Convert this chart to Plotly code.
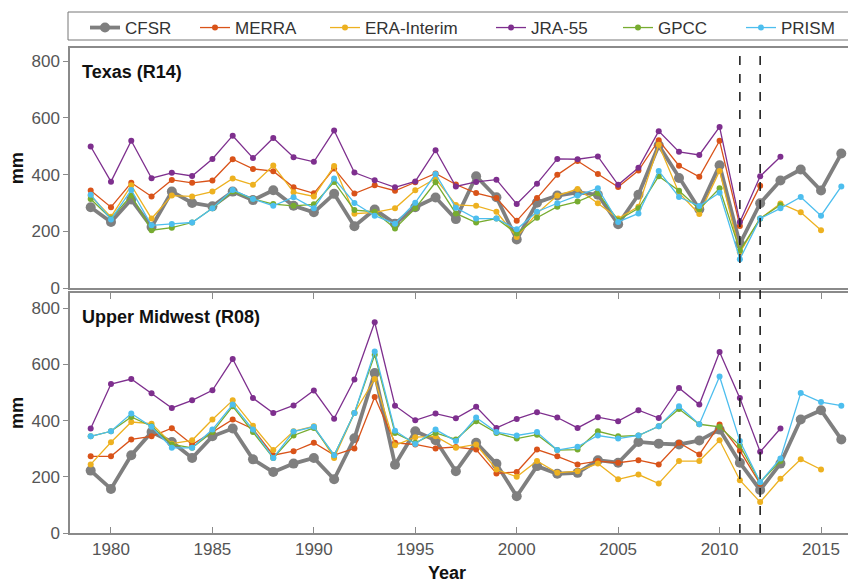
import plotly.graph_objects as go

years = list(range(1979, 2017))
N = None

# Texas (R14)
tx_cfsr = [285, 233, 312, 215, 340, 300, 288, 340, 310, 345, 290, 267, 332, 218, 277, 227, 285, 319, 243, 394,
           320, 171, 301, 326, 337, 329, 225, 329, 503, 388, 278, 433, 156, 299, 379, 418, 344, 474]
tx_merra = [344, 285, 371, 323, 381, 371, 379, 454, 420, 412, 355, 334, 421, 333, 362, 343, 373, 404, 365, 335,
            317, 237, 317, 399, 448, 402, 356, 414, 521, 431, 392, 519, 219, 361, N, N, N, N]
tx_era = [325, 251, 362, 245, 326, 323, 340, 386, 364, 432, 338, 323, 430, 262, 267, 281, 345, 386, 293, 290,
          269, 180, 263, 326, 349, 299, 245, 287, 505, 335, 261, 413, 126, 245, 298, 267, 204, N]
tx_jra = [499, 375, 519, 387, 406, 395, 455, 537, 458, 529, 461, 445, 555, 407, 380, 355, 376, 486, 358, 374,
          382, 296, 368, 455, 454, 464, 364, 424, 553, 480, 469, 568, 233, 394, 463, N, N, N]
tx_gpcc = [314, 245, 326, 204, 213, 231, 281, 340, 314, 296, 290, 295, 374, 275, 269, 210, 281, 373, 263, 231,
           245, 192, 248, 287, 305, 335, 239, 281, 394, 343, 278, 352, 132, 245, 293, N, N, N]
tx_prism = [329, 242, 346, 221, 226, 231, 281, 346, 314, 290, 320, 281, 386, 300, 255, 227, 301, 402, 283, 245,
            245, 207, 269, 299, 326, 352, 233, 263, 413, 321, 289, 336, 102, 245, 281, 321, 255, 358]

# Upper Midwest (R08)
mw_cfsr = [222, 157, 277, 359, 324, 267, 344, 372, 262, 217, 247, 267, 191, 337, 569, 243, 362, 330, 220, 321,
           246, 131, 238, 211, 214, 259, 250, 324, 318, 315, 329, 368, 250, 153, 247, 404, 437, 333]
mw_merra = [273, 273, 333, 344, 373, 315, 359, 404, 370, 277, 291, 321, 277, 301, 484, 321, 315, 301, 306, 297,
            212, 217, 297, 273, 244, 256, 250, 259, 244, 321, 279, 386, 293, 175, N, N, N, N]
mw_era = [244, 323, 395, 389, 318, 330, 404, 472, 382, 295, 362, 380, 267, 427, 548, 312, 341, 344, 303, 315,
          226, 200, 256, 214, 220, 247, 191, 208, 176, 256, 256, 330, 188, 110, 193, 262, 226, N]
mw_jra = [372, 530, 548, 497, 445, 472, 508, 619, 480, 427, 454, 507, 407, 546, 750, 453, 401, 425, 408, 449,
          374, 406, 430, 411, 374, 412, 398, 437, 409, 516, 457, 644, 480, 289, 372, N, N, N]
mw_gpcc = [344, 362, 413, 380, 315, 303, 359, 451, 359, 267, 347, 374, 277, 427, 634, 356, 321, 356, 333, 398,
           356, 336, 350, 295, 297, 362, 344, 347, 380, 441, 387, 378, 311, 181, 256, N, N, N]
mw_prism = [344, 362, 425, 378, 303, 303, 368, 457, 368, 267, 361, 378, 277, 427, 646, 364, 317, 368, 327, 411,
            359, 347, 359, 295, 307, 347, 336, 347, 380, 451, 387, 557, 327, 181, 265, 498, 466, 453]

series_names = ["CFSR", "MERRA", "ERA-Interim", "JRA-55", "GPCC", "PRISM"]
series_colors = ["#7f7f7f", "#D95319", "#EDB120", "#7E2F8E", "#77AC30", "#4DBEEE"]
texas = [tx_cfsr, tx_merra, tx_era, tx_jra, tx_gpcc, tx_prism]
midwest = [mw_cfsr, mw_merra, mw_era, mw_jra, mw_gpcc, mw_prism]
event_years = [2011, 2012]
panel_titles = ["Texas (R14)", "Upper Midwest (R08)"]
x_ticks = [1980, 1985, 1990, 1995, 2000, 2005, 2010, 2015]
y_ticks = [0, 200, 400, 600, 800]

# figure geometry (pixels)
W, H = 848, 586
ML, MR, MT, MB = 70, 0, 48, 53
PW, PH = W - ML - MR, H - MT - MB
legend_px = [85, 195, 325, 491, 618, 741]  # left edge of each legend entry


def px_x(p):
    return (p - ML) / PW


def px_y(p):
    return (H - MB - p) / PH


legend_ids = ["legend"] + ["legend%d" % k for k in range(2, 7)]

fig = go.Figure()
for panel, (data, xa, ya) in enumerate([(texas, "x", "y"), (midwest, "x2", "y2")]):
    for i, (name, color, vals) in enumerate(zip(series_names, series_colors, data)):
        thick = (i == 0)
        fig.add_trace(go.Scatter(
            x=years, y=vals, name=name, xaxis=xa, yaxis=ya, mode="lines+markers",
            line=dict(color=color, width=3.8 if thick else 1.3),
            marker=dict(color=color, size=10 if thick else 6),
            showlegend=(panel == 0), legendgroup=name, legend=legend_ids[i],
        ))

for yr in event_years:
    fig.add_shape(type="line", xref="x2", yref="paper", x0=yr, x1=yr, y0=0, y1=1.0,
                  line=dict(color="#222", width=1.6, dash="dash"))

# legend frame
fig.add_shape(type="rect", xref="paper", yref="paper", x0=px_x(68), x1=px_x(W + 5),
              y0=px_y(40), y1=px_y(12), line=dict(color="#777", width=1), fillcolor="white", layer="below")

tick_font = dict(family="Liberation Sans Narrow, Liberation Sans, Arial", size=17, color="#555")
axis_common = dict(showgrid=False, zeroline=False, showline=True, linecolor="#8a8a8a", linewidth=1.5)
xr = [1977.98, 2016.33]
top_dom = [0.505, 1.0]
bot_dom = [0.0, 0.4948]

layout_legends = {}
leg_font = dict(family="Liberation Sans, Arial", size=17, color="#333")
for lid, p in zip(legend_ids, legend_px):
    layout_legends[lid] = dict(orientation="h", x=px_x(p), xanchor="left", y=px_y(10), yanchor="top",
                               borderwidth=0, bgcolor="rgba(0,0,0,0)", font=leg_font, itemwidth=30)

fig.update_layout(
    width=W, height=H,
    margin=dict(l=ML, r=MR, t=MT, b=MB),
    paper_bgcolor="white", plot_bgcolor="white",
    xaxis=dict(domain=[0, 1], anchor="y", range=xr, showticklabels=False, ticks="", mirror=True, **axis_common),
    yaxis=dict(domain=top_dom, anchor="x", range=[0, 846], tickvals=y_ticks, ticks="outside", ticklen=5,
               tickcolor="#8a8a8a", tickfont=tick_font, mirror=False, **axis_common),
    xaxis2=dict(domain=[0, 1], anchor="y2", range=xr, tickvals=x_ticks, ticks="inside", ticklen=6,
                tickcolor="#8a8a8a", tickfont=tick_font, mirror="ticks", **axis_common),
    yaxis2=dict(domain=bot_dom, anchor="x2", range=[0, 854], tickvals=y_ticks, ticks="outside", ticklen=5,
                tickcolor="#8a8a8a", tickfont=tick_font, mirror=False, **axis_common),
    **layout_legends,
)

title_font = dict(family="Liberation Sans, Arial", size=18, color="#111")
fig.add_annotation(text="<b>%s</b>" % panel_titles[0], xref="paper", yref="paper", x=0.013, y=0.975,
                   xanchor="left", yanchor="top", showarrow=False, font=title_font)
fig.add_annotation(text="<b>%s</b>" % panel_titles[1], xref="paper", yref="paper", x=0.013, y=0.47,
                   xanchor="left", yanchor="top", showarrow=False, font=title_font)
for yc in [(top_dom[0] + top_dom[1]) / 2, (bot_dom[0] + bot_dom[1]) / 2]:
    fig.add_annotation(text="<b>mm</b>", xref="paper", yref="paper", x=-0.068, y=yc, textangle=-90,
                       xanchor="center", yanchor="middle", showarrow=False, font=title_font)
fig.add_annotation(text="<b>Year</b>", xref="paper", yref="paper", x=0.485, y=px_y(573),
                   xanchor="center", yanchor="middle", showarrow=False, font=title_font)

fig.write_html("out.html")
